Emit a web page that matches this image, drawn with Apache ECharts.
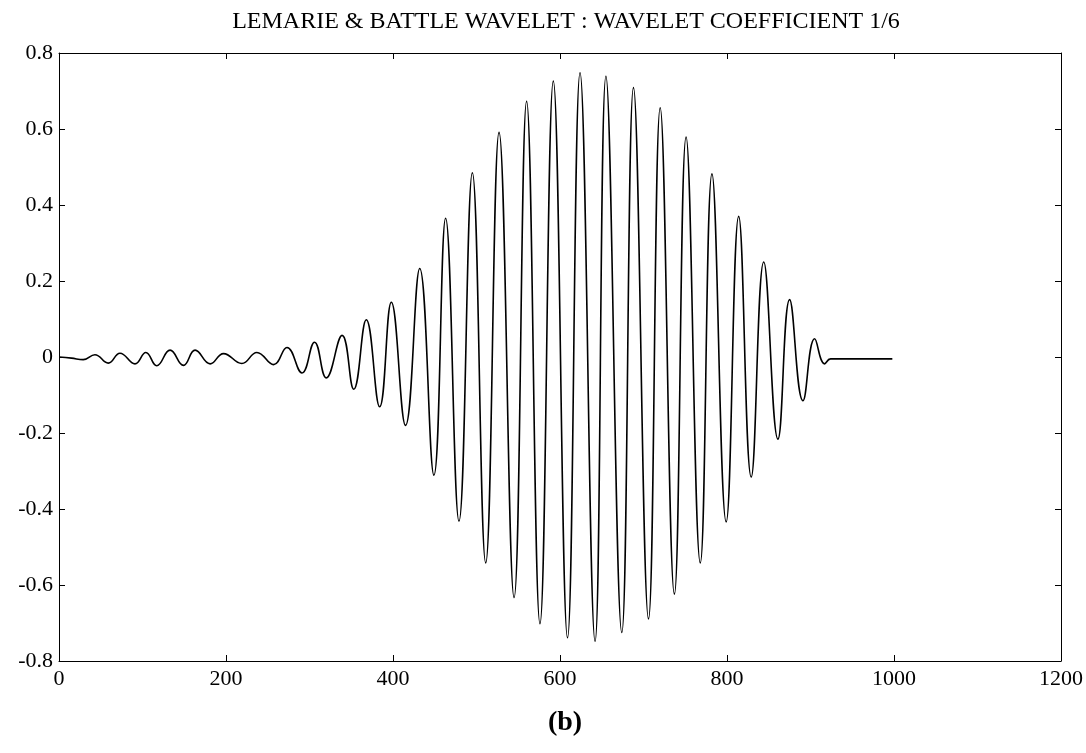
<!DOCTYPE html>
<html>
<head>
<meta charset="utf-8">
<title>LEMARIE & BATTLE WAVELET</title>
<script src="https://cdn.jsdelivr.net/npm/echarts@6/dist/echarts.min.js"></script>
<style>
	html, body { margin: 0; padding: 0; background: #fff; }
	#chart { width: 1086px; height: 753px; }
</style>
</head>
<body>
<div id="chart"></div>
<script>
// 数据 (从图中读取的极值点)
const waveX = [0, 15, 29, 43, 59, 73, 91, 104, 117, 133, 149, 163, 181, 197, 219, 237, 257, 273, 291, 306,
	320, 339, 353, 368, 384, 398, 415, 432, 449, 463, 479, 495, 511, 527, 545, 560, 576, 592, 609, 624,
	642, 655, 674, 688, 706, 720, 737, 751, 768, 782, 799, 814, 829, 844, 861, 875, 891, 905, 917, 924,
	960, 998];
const waveY = [0, -0.003, -0.007, 0.006, -0.016, 0.010, -0.018, 0.012, -0.023, 0.018, -0.022, 0.018, -0.018, 0.009, -0.017, 0.012, -0.020, 0.025, -0.042, 0.039,
	-0.055, 0.057, -0.085, 0.098, -0.131, 0.144, -0.180, 0.233, -0.311, 0.365, -0.432, 0.485, -0.542, 0.591, -0.633, 0.673, -0.702, 0.726, -0.739, 0.748,
	-0.748, 0.739, -0.725, 0.709, -0.689, 0.656, -0.624, 0.579, -0.542, 0.482, -0.434, 0.370, -0.316, 0.250, -0.216, 0.151, -0.115, 0.048, -0.018, -0.005,
	-0.005, -0.005];
const xRange = [0, 1200, 200];		// min, max, interval
const yRange = [-0.8, 0.8, 0.2];

const serif = "'Liberation Serif', 'DejaVu Serif', serif";

let chart = echarts.init(document.querySelector('#chart'));

// 边框坐标轴 (刻度朝内)
let frameAxis = {
	axisLine: { show: true, onZero: false, lineStyle: { color: '#000', width: 1 } },
	axisTick: { show: true, inside: true, length: 6, lineStyle: { color: '#000' } },
	splitLine: { show: false }
};

let option = {
	animation: false,
	title: [{
		text: 'LEMARIE & BATTLE WAVELET : WAVELET COEFFICIENT 1/6',
		left: 561, top: 5, textAlign: 'center',
		textStyle: { fontFamily: serif, fontSize: 24, fontWeight: 'normal', color: '#000' }
	}, {
		text: '(b)',
		left: 560, top: 704, textAlign: 'center',
		textStyle: { fontFamily: serif, fontSize: 28, fontWeight: 'bold', color: '#000' }
	}],
	grid: { left: 59, right: 24, top: 53, bottom: 92 },
	xAxis: [
		Object.assign({
			type: 'value', position: 'bottom',
			min: xRange[0], max: xRange[1], interval: xRange[2],
			axisLabel: { color: '#000', fontFamily: serif, fontSize: 22, margin: 7, formatter: v => String(v) }
		}, frameAxis),
		Object.assign({
			type: 'value', position: 'top',
			min: xRange[0], max: xRange[1], interval: xRange[2],
			axisLabel: { show: false }
		}, frameAxis)
	],
	yAxis: [
		Object.assign({
			type: 'value', position: 'left',
			min: yRange[0], max: yRange[1], interval: yRange[2],
			axisLabel: {
				color: '#000', fontFamily: serif, fontSize: 22, margin: 6,
				formatter: v => (Math.round(v * 10) / 10).toString()
			}
		}, frameAxis),
		Object.assign({
			type: 'value', position: 'right',
			min: yRange[0], max: yRange[1], interval: yRange[2],
			axisLabel: { show: false }
		}, frameAxis)
	],
	series: [{
		type: 'line',
		data: waveX.map((x, i) => [x, waveY[i]]),
		showSymbol: false,
		smooth: 0.45,
		lineStyle: { color: '#000', width: 1.6 }
	}]
};
chart.setOption(option);
</script>
</body>
</html>
